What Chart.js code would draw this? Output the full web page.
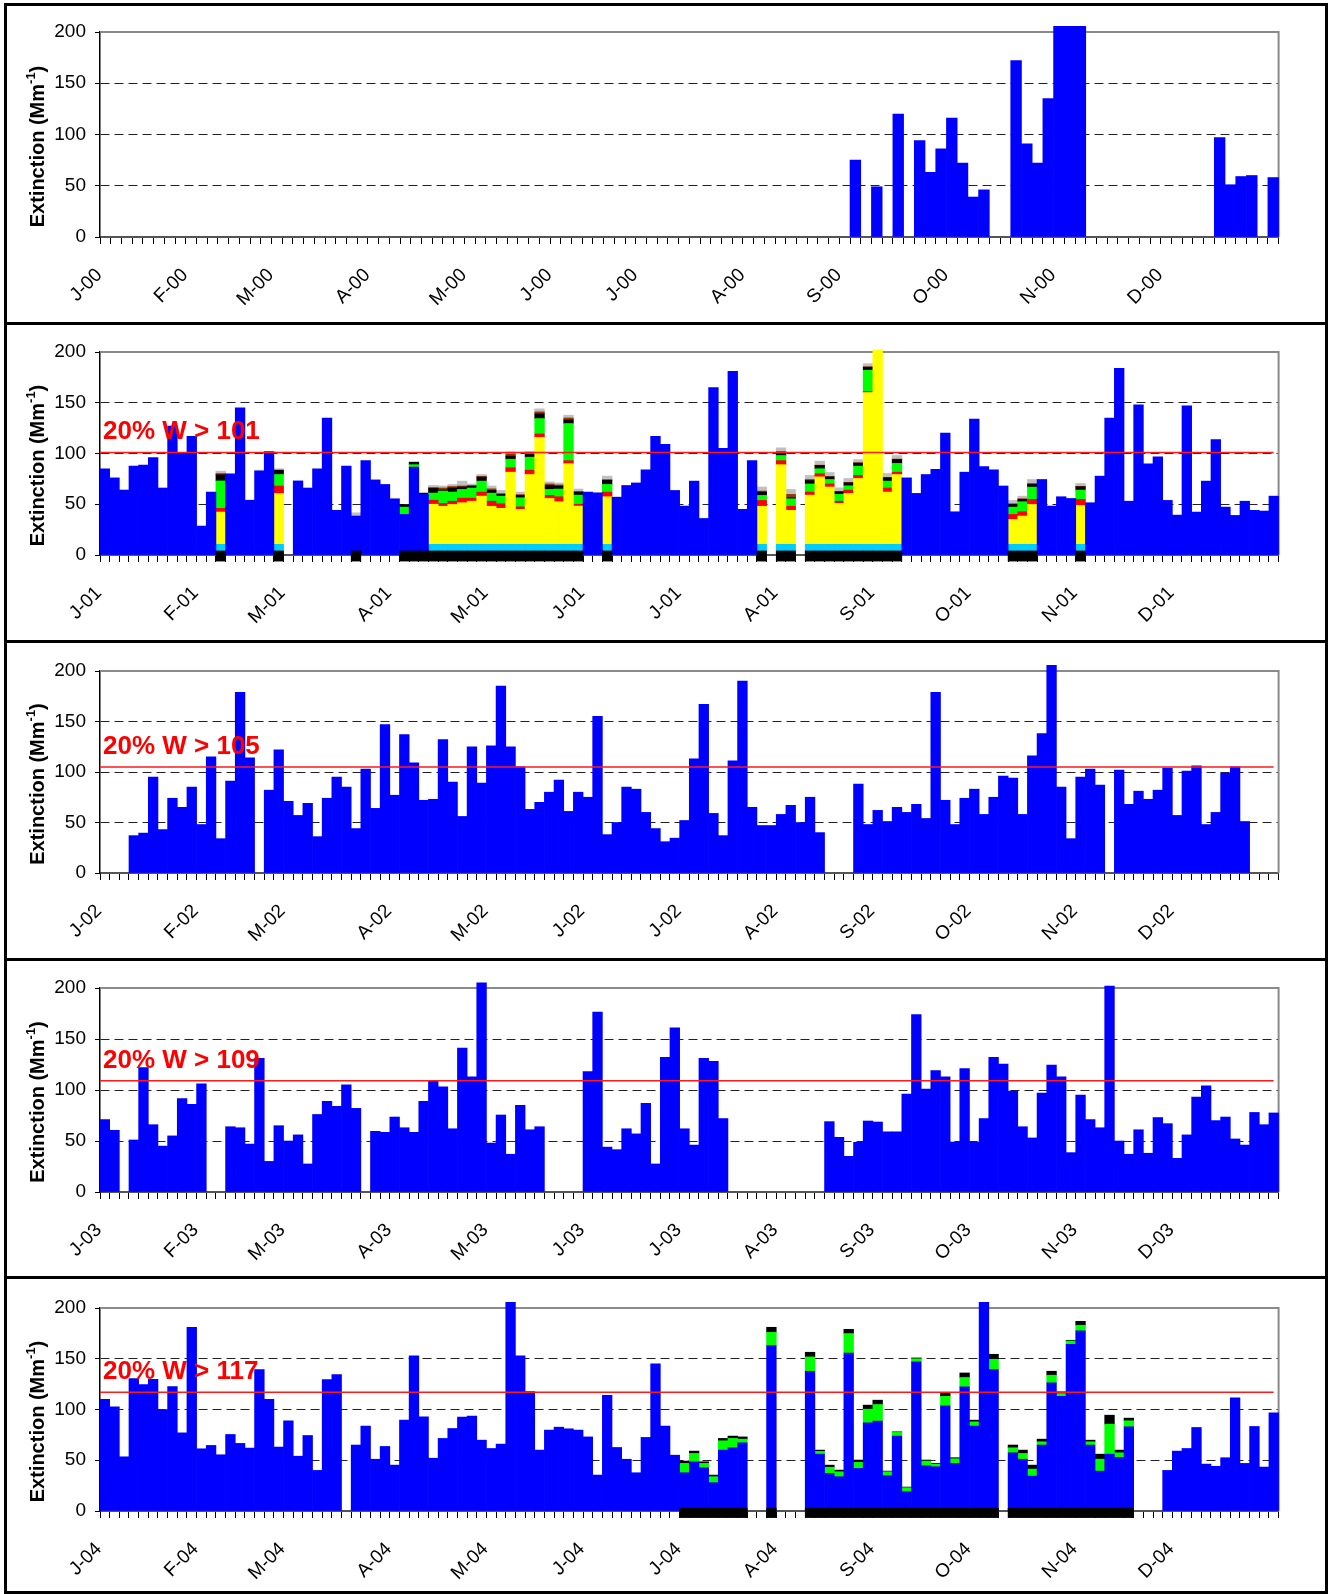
<!DOCTYPE html>
<html>
<head>
<meta charset="utf-8">
<script src="https://cdn.jsdelivr.net/npm/chart.js@4.4.0/dist/chart.umd.min.js"></script>
<style>
  html, body { margin: 0; padding: 0; background: #fff; }
  body { width: 1328px; height: 1594px; position: relative; overflow: hidden; }
  canvas { position: absolute; left: 0; }
  .frame { position: absolute; left: 4px; top: 3px; width: 1324px; height: 1591px; border: 3px solid #000; box-sizing: border-box; z-index: 5; }
  .divider { position: absolute; left: 4px; width: 1324px; height: 3px; background: #000; z-index: 5; }
</style>
</head>
<body>
<canvas id="c0" width="1328" height="318" style="top:3px"></canvas>
<canvas id="c1" width="1328" height="318" style="top:323px"></canvas>
<canvas id="c2" width="1328" height="318" style="top:642px"></canvas>
<canvas id="c3" width="1328" height="318" style="top:959px"></canvas>
<canvas id="c4" width="1328" height="318" style="top:1279px"></canvas>
<div class="frame"></div>
<div class="divider" style="top:322px"></div>
<div class="divider" style="top:640px"></div>
<div class="divider" style="top:958px"></div>
<div class="divider" style="top:1276px"></div>
<script>
const _ = null;

// axis labels
const monthInitials = ["J", "F", "M", "A", "M", "J", "J", "A", "S", "O", "N", "D"];
const years = ["00", "01", "02", "03", "04"];
const sampleCounts = [110, 122, 122, 122, 122];
const monthStarts = [
  [0, 8, 16, 25, 34, 42, 50, 60, 69, 79, 89, 99],
  [0, 10, 19, 30, 40, 50, 60, 70, 80, 90, 101, 111],
  [0, 10, 19, 30, 40, 50, 60, 70, 80, 90, 101, 111],
  [0, 10, 19, 30, 40, 50, 60, 70, 80, 90, 101, 111],
  [0, 10, 19, 30, 40, 50, 60, 70, 80, 90, 101, 111]
];
const thresholds = [_, 101, 105, 109, 117];

// total extinction (blue bars), one value per sample day
const blue2000 = [
  _, _, _, _, _, _, _, _, _, _,
  _, _, _, _, _, _, _, _, _, _,
  _, _, _, _, _, _, _, _, _, _,
  _, _, _, _, _, _, _, _, _, _,
  _, _, _, _, _, _, _, _, _, _,
  _, _, _, _, _, _, _, _, _, _,
  _, _, _, _, _, _, _, _, _, _,
  75, _, 49, _, 120, _, 94, 63, 86, 116,
  72, 39, 46, _, _, 172, 91, 72, 135, 205.5,
  205.5, 205.5, _, _, _, _, _, _, _, _,
  _, _, _, _, 97, 51, 59, 60, _, 58
];
const blue2001 = [
  85, 76, 64, 87.5, 88.5, 96, 66, 127, 101, 117,
  28.5, 62, _, 80, 145, 54, 83, 102, _, _,
  73, 66, 85, 135, 44, 87.5, 38.4, 93, 74, 69.5,
  55.4, 40, 86.5, 59.7, _, _, _, _, _, _,
  _, _, _, _, _, _, _, _, _, _,
  62, 61.3, _, 57, 68.5, 71, 84, 117, 109, 63.6,
  48.2, 72.8, 36, 165, 105, 181, 45, 93, _, _,
  _, _, _, _, _, _, _, _, _, _,
  _, _, _, 76, 60.7, 79.3, 84.3, 120, 42.6, 81.6,
  134, 87, 84, 68, _, _, _, 74.4, 48.2, 57.4,
  55.7, _, 51.5, 77.7, 135, 184, 53, 148, 89.8, 96.7,
  53.8, 39.3, 147, 42.3, 72.8, 113.8, 47.2, 39, 53, 44,
  43.3, 58
];
const blue2002 = [
  _, _, _, 37, 39.5, 95, 43, 74, 65, 85,
  48, 115, 34, 91, 179, 114, _, 82, 122, 71,
  57, 69, 36, 74, 95, 85, 44, 103, 64, 147,
  77, 137, 109, 72, 73, 132, 90, 56, 125, 89,
  126, 185, 125, 105, 63, 70, 80, 92, 61, 80,
  75, 155, 38, 50, 85, 83, 60, 44, 31, 34.5,
  52, 113, 167, 59, 37, 111, 190, 65, 47, 47,
  58, 67, 50, 75, 40, _, _, _, 88, 48,
  62, 51, 65, 60, 68, 54, 179, 72, 48, 74,
  83, 58, 75, 96, 94, 58, 116, 138, 205.5, 85,
  34, 95, 103, 87, _, 102, 68, 81, 73, 82,
  104, 57, 101, 106, 48, 60, 99, 105, 51, _,
  _, _
];
const blue2003 = [
  71, 60.5, _, 51, 122, 66, 45, 55, 91.5, 86,
  106, _, _, 64, 63, 47, 131, 30, 65, 50,
  56, 27.5, 76, 89, 84, 105, 82, _, 59.5, 58.5,
  73.5, 63, 58.5, 89, 109.5, 103, 62, 141, 113, 205,
  48, 75.5, 37, 85, 61, 64, _, _, _, _,
  118, 176.5, 44, 41.5, 62, 57, 87, 27.5, 132, 161,
  62, 46, 131, 128, 72, _, _, _, _, _,
  _, _, _, _, _, 69, 53.6, 35, 48.7, 69.6,
  68.6, 59, 59, 96, 174, 101, 119, 113, 49, 121,
  49, 72, 132, 125.5, 99, 64, 53, 97, 124.5, 113,
  38.6, 95, 71, 63, 202, 50, 37, 61, 38, 73,
  67, 33, 56, 93, 104, 70, 73.5, 52, 46, 78,
  66, 77.5
];
const blue2004 = [
  110, 102.6, 53.4, 130.5, 124.6, 129.8, 100, 122.6, 77, 181,
  61.3, 64.6, 55.4, 75.4, 66.6, 62, 139.3, 110, 63, 88.9,
  54, 74.4, 40, 129.5, 134.4, _, 65, 83.6, 51, 63.6,
  45.2, 89.5, 152.8, 92.8, 52, 71.5, 81.3, 92.5, 93.4, 69.8,
  61.6, 65.9, 205.5, 153, 117.7, 60, 79.7, 82.6, 81, 79.7,
  73, 35.4, 114, 62.6, 51, 37.7, 72.5, 145, 83.6, 55,
  37.7, 48.5, 42.6, 27.9, 60, 62.3, 67.2, _, _, 163,
  _, _, _, 137.7, 56, 37, 33.8, 155.7, 42, 86.9,
  88.5, 34.8, 73.8, 19, 146.9, 44.6, 43.6, 103.6, 46.9, 122.3,
  83.6, 205.5, 139.3, _, 57.4, 51, 34.4, 65, 126.2, 113,
  164.3, 177.4, 65, 39.3, 56, 52.8, 83, _, _, _,
  40, 59, 61.6, 82.3, 46.2, 44, 52.5, 111.5, 46.9, 83.3,
  43.3, 96.7
];

// 2001 worst-day composition (segment heights) on these sample indices
const days2001 = [12, 18, 26, 31, 32, 33, 34, 35, 36, 37, 38, 39, 40, 41, 42, 43, 44, 45, 46, 47,
  48, 49, 52, 68, 70, 71, 73, 74, 75, 76, 77, 78, 79, 80, 81, 82, 94, 95, 96, 101];
const cyan2001 = [10.5, 10.5, 0, 0, 0, 0, 10.5, 10.5, 10.5, 10.5, 10.5, 10.5, 10.5, 10.5, 10.5, 10.5, 10.5, 10.5, 10.5, 10.5,
  10.5, 10.5, 10.5, 10.5, 10.5, 10.5, 10.5, 10.5, 10.5, 10.5, 10.5, 10.5, 10.5, 10.5, 10.5, 10.5, 10.5, 10.5, 10.5, 10.5];
const yellow2001 = [31.8, 50.1, 0, 0, 0, 0, 39.5, 37.5, 39.3, 41, 42.5, 47.5, 37.5, 35.5, 71.1, 34.5, 68.8, 105.5, 45.2, 42,
  79.5, 37.7, 46.9, 37.5, 78.5, 33.5, 48.5, 66.5, 56.5, 40.3, 50.2, 64.9, 149.5, 191.5, 51.5, 68.8, 24.5, 27.9, 39.3, 38.4];
const red2001 = [3.7, 7.4, 0, 0, 0, 0, 4, 2.8, 3.2, 4.5, 3, 4, 5, 4.5, 4.4, 2.5, 4.3, 3.3, 3, 4.9,
  3, 1.8, 4.6, 5.8, 4, 4, 3, 3, 3, 2.2, 3.3, 3, 1, 0, 4, 2.3, 5, 4.2, 5, 5.9];
const green2001 = [27, 11.3, 0, 7.2, 2.5, 0, 7, 12.2, 9, 8.6, 10, 10.8, 8, 7.5, 8.4, 8.9, 12.8, 15.1, 5.9, 7.6,
  36.5, 9, 7.5, 4.9, 5, 7.4, 8, 5, 4.4, 6.7, 4.2, 9.1, 21, 0, 6.8, 8.6, 7.2, 9.9, 12.1, 9.2];
const black2001 = [6, 4.3, 0, 2.6, 2.5, 1.3, 4.6, 1, 4, 2.4, 1.6, 3.9, 2.6, 1.7, 3, 2.3, 2.6, 4.6, 3.9, 2.9,
  3.5, 3, 4.3, 3.3, 2.6, 1, 3.4, 3.2, 2.6, 2.6, 2.9, 3, 3, 0, 3.2, 3.8, 2.6, 2.3, 2.6, 3.2];
const brown2001 = [1.3, 0, 0, 0, 0, 0, 0.9, 2, 1.5, 1, 1, 0.8, 1.6, 0.8, 2.3, 0.8, 1, 2, 1.5, 1.1,
  2, 0.5, 0.2, 1, 1.4, 3.3, 1, 0.3, 0.3, 0.3, 0.4, 0.5, 0.5, 0, 0.5, 0.5, 0.7, 0.7, 1, 0.5];
const gray2001 = [2.3, 1.4, 3.2, 0, 0, 0, 2, 2, 2, 4.8, 1.4, 1.8, 2.8, 3.1, 1.9, 2.5, 2, 3, 2, 2,
  2.7, 2.5, 3.7, 4, 3.6, 4.9, 4, 4, 4, 3.6, 3.9, 3, 3, 0, 3.8, 3.5, 3.3, 2.5, 3.9, 2.8];

// 2004 extra layers on top of blue
const days2004 = [60, 61, 62, 63, 64, 65, 66, 69, 73, 74, 75, 76, 77, 78, 79, 80, 81, 82, 83, 84,
  85, 86, 87, 88, 89, 90, 92, 94, 95, 96, 97, 98, 99, 100, 101, 102, 103, 104, 105, 106];
const green2004 = [9.2, 8.2, 4.3, 5.9, 9.2, 9.2, 3.6, 13, 14.1, 2.7, 6, 4.9, 19.1, 5.9, 13.4, 16.4, 3.9, 3.6, 4, 3.1,
  4.6, 2.6, 9.4, 4.6, 9.2, 4.3, 10.2, 4.9, 5.7, 6.9, 3.2, 7.6, 2.7, 3.2, 5.6, 3.2, 11.8, 29.6, 4.6, 5.9];
const black2004 = [2.3, 2.3, 1.6, 1.6, 2.3, 2.3, 2.2, 5, 4.6, 1.3, 2.2, 1.6, 4.2, 2.3, 4, 4.3, 0.6, 0.6, 0.6, 0.8,
  1, 0.7, 3.4, 1, 4.5, 1.6, 4.9, 2.7, 3.3, 3.9, 2.6, 3.9, 1.7, 0.7, 3.9, 1.6, 4.9, 8.8, 2.6, 2.6];

// flagged days (black marks on the axis)
const marks2001 = days2001;
const marks2004 = [60, 61, 62, 63, 64, 65, 66, 69, 73, 74, 75, 76, 77, 78, 79, 80, 81, 82, 83, 84,
  85, 86, 87, 88, 89, 90, 91, 92, 94, 95, 96, 97, 98, 99, 100, 101, 102, 103, 104, 105, 106];

Chart.defaults.font.family = '"Liberation Sans", Arial, sans-serif';
Chart.defaults.color = "#000";

function spread(days, values, n) {
  const out = new Array(n).fill(null);
  days.forEach((d, i) => { out[d] = values[i] || null; });
  return out;
}
function markRange(days, n, lo, hi) {
  const out = new Array(n).fill(null);
  days.forEach(d => { out[d] = [lo, hi]; });
  return out;
}
function makeLabels(p) {
  const labels = new Array(sampleCounts[p]).fill("");
  monthStarts[p].forEach((k, m) => { labels[k] = monthInitials[m] + "-" + years[p]; });
  return labels;
}

function bar(label, data, color) {
  return { label, data, backgroundColor: color, borderWidth: 0, clip: false, order: 1,
           stack: "main", grouped: false, barPercentage: 1, categoryPercentage: 1 };
}
function flags(data) {
  return Object.assign(bar("Flag", data, "#000000"), { yAxisID: "yM", stack: "flag", order: 0 });
}

const plotHeights = [205, 203, 202, 204, 203];

function decor(p) {
  return {
    id: "decor" + p,
    beforeDatasetsDraw(chart) {
      const { ctx, chartArea: a } = chart;
      ctx.save();
      ctx.strokeStyle = "#8a8a8a";
      ctx.lineWidth = 2;
      ctx.beginPath();
      ctx.moveTo(a.left, a.top);
      ctx.lineTo(a.right, a.top);
      ctx.lineTo(a.right, a.bottom);
      ctx.stroke();
      ctx.restore();
    },
    afterDatasetsDraw(chart) {
      const t = thresholds[p];
      if (t == null) return;
      const { ctx, chartArea: a, scales: { y } } = chart;
      const py = y.getPixelForValue(t);
      ctx.save();
      ctx.strokeStyle = "#ff1a1a";
      ctx.lineWidth = 1.5;
      ctx.beginPath();
      ctx.moveTo(a.left, py);
      ctx.lineTo(a.right - 5, py);
      ctx.stroke();
      ctx.fillStyle = "#ff0000";
      ctx.font = 'bold 26px "Liberation Sans", Arial, sans-serif';
      ctx.textAlign = "left";
      ctx.textBaseline = "alphabetic";
      ctx.fillText("20% W > " + t, a.left + 3, y.getPixelForValue(t + 13));
      ctx.restore();
    },
    afterDraw(chart) {
      // y axis title with superscript
      const { ctx, chartArea: a } = chart;
      const big = 'bold 20px "Liberation Sans", Arial, sans-serif';
      const small = 'bold 13px "Liberation Sans", Arial, sans-serif';
      ctx.save();
      ctx.translate(38, (a.top + a.bottom) / 2 + 12);
      ctx.rotate(-Math.PI / 2);
      ctx.fillStyle = "#000";
      ctx.textBaseline = "middle";
      ctx.textAlign = "left";
      ctx.font = big;
      const w1 = ctx.measureText("Extinction (Mm").width;
      const w3 = ctx.measureText(")").width;
      ctx.font = small;
      const w2 = ctx.measureText("-1").width;
      let x = -(w1 + w2 + w3) / 2;
      ctx.font = big;
      ctx.fillText("Extinction (Mm", x, 0);
      x += w1;
      ctx.font = small;
      ctx.fillText("-1", x, -7);
      x += w2;
      ctx.font = big;
      ctx.fillText(")", x, 0);
      ctx.restore();
    }
  };
}

const blues = [blue2000, blue2001, blue2002, blue2003, blue2004];

for (let p = 0; p < 5; p++) {
  const n = sampleCounts[p];
  const datasets = [bar("Total", blues[p], "#0000ff")];
  if (p === 1) {
    datasets.push(bar("Rayleigh", spread(days2001, cyan2001, n), "#00ccff"));
    datasets.push(bar("Sulfate", spread(days2001, yellow2001, n), "#ffff00"));
    datasets.push(bar("Nitrate", spread(days2001, red2001, n), "#ff0000"));
    datasets.push(bar("Organics", spread(days2001, green2001, n), "#00ff00"));
    datasets.push(bar("EC", spread(days2001, black2001, n), "#000000"));
    datasets.push(bar("Soil", spread(days2001, brown2001, n), "#993300"));
    datasets.push(bar("Coarse", spread(days2001, gray2001, n), "#c0c0c0"));
    datasets.push(flags(markRange(marks2001, n, -6, 4)));
  }
  if (p === 4) {
    datasets.push(bar("Organics", spread(days2004, green2004, n), "#00ff00"));
    datasets.push(bar("EC", spread(days2004, black2004, n), "#000000"));
    datasets.push(flags(markRange(marks2004, n, -6.5, 2.7)));
  }
  const H = 318;
  new Chart(document.getElementById("c" + p), {
    type: "bar",
    data: { labels: makeLabels(p), datasets },
    options: {
      responsive: false,
      animation: false,
      devicePixelRatio: 1,
      layout: { padding: { top: 29, right: 49.4, left: 0, bottom: 0 } },
      plugins: { legend: { display: false }, tooltip: { enabled: false } },
      scales: {
        x: {
          stacked: true,
          offset: true,
          grid: { offset: true, drawOnChartArea: false, drawTicks: true, tickLength: 7, tickColor: "#000", tickWidth: 1 },
          border: { display: true, color: "#555", width: 2 },
          ticks: { autoSkip: false, maxRotation: 45, minRotation: 45, padding: 20, labelOffset: -6,
                   color: "#000", font: { size: 19 } },
          afterFit: s => { s.height = H - 29 - plotHeights[p]; }
        },
        y: {
          stacked: true,
          min: 0,
          max: 200,
          ticks: { stepSize: 50, padding: 9, color: "#000", font: { size: 19 } },
          grid: {
            color: c => (c.tick && (c.tick.value === 0 || c.tick.value === 200)) ? "rgba(0,0,0,0)" : "#222",
            lineWidth: 1, tickLength: 5, tickColor: "#000"
          },
          border: { display: true, color: "#000", width: 1.5, dash: [9, 5] },
          afterFit: s => { s.width = 100; }
        },
        yM: { type: "linear", display: false, min: 0, max: 200, stacked: false }
      }
    },
    plugins: [decor(p)]
  });
}
</script>
</body>
</html>
